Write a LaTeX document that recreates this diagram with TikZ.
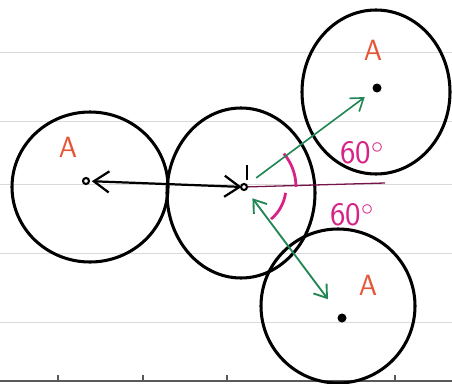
\documentclass[tikz,border=0pt]{standalone}
\usepackage{tikz}
\usetikzlibrary{calc, arrows.meta}
\definecolor{labelred}{RGB}{230,85,55}
\definecolor{anglepink}{RGB}{215,35,135}
\definecolor{arrowgreen}{RGB}{35,135,85}

\begin{document}
\begin{tikzpicture}[x=0.03cm, y=0.03cm, font=\sffamily,
    ring/.style={line width=2.6pt},
    lbl/.style={text=labelred, font=\sffamily\fontsize{25}{25}\selectfont},
    ang/.style={text=anglepink, font=\sffamily\fontsize{28}{28}\selectfont},
    hb/.tip={Straight Barb[length=13pt, width=18pt]},
    gb/.tip={Straight Barb[length=10pt, width=14pt]}]
        \useasboundingbox (0,0) rectangle (452,383);

        % --- ruled paper ---
        \foreach \y in {331,262,199,130,61}
          \draw[gray!30, line width=0.8pt] (0,\y) -- (452,\y);
        \draw[black!65, line width=1pt] (0,2) -- (452,2);
        \foreach \x in {58,143,227,395}
          \draw[black!65, line width=1pt] (\x,2) -- (\x,8);

        % --- centres ---
        \coordinate (cL) at (86,202);
        \coordinate (cM) at (244,196);
        \coordinate (cT) at (377,295);
        \coordinate (cB) at (342,65);

        % --- the four circles ---
        \draw[ring] (90,196)  ellipse [x radius=78, y radius=75];
        \draw[ring] (241,190) ellipse [x radius=74, y radius=85];
        \draw[ring] (376,291) ellipse [x radius=74, y radius=82];
        \draw[ring] (338,77)  ellipse [x radius=77, y radius=77];

        % --- angle reference line and arcs ---
        \coordinate (ref) at (385,200);
        \draw[anglepink!55!black, line width=1.1pt] (cM) -- (ref);
        \draw[anglepink, line width=2.4pt] ($(cM)+(52,0)$) arc[start angle=0, end angle=40, radius=52];
        \draw[anglepink, line width=2.4pt] ($(cM)+(-8:42)$) arc[start angle=-8, end angle=-50, radius=42];
        \node[ang] (a1) at (362,230) {60$^{\circ}$};
        \node[ang] (a2) at (352,168) {60$^{\circ}$};

        % --- distances ---
        \draw[line width=1.9pt, hb-hb, shorten <=5pt, shorten >=2pt] (cL) -- (cM);
        \draw[black, line width=1.7pt] (247,203) -- (247,218);
        \draw[arrowgreen, line width=1.4pt, -gb, shorten <=13pt, shorten >=13pt] (cM) -- (cT);
        \draw[arrowgreen, line width=1.6pt, gb-gb, shorten <=12pt, shorten >=20pt] (cM) -- (cB);

        % --- centre marks ---
        \draw[line width=1.8pt, fill=white] (cL) circle (3);
        \draw[line width=1.8pt, fill=white] (cM) circle (3);
        \fill (cT) circle (4.5);
        \fill (cB) circle (4.5);

        % --- labels ---
        \node[lbl] (lA1) at (68,236) {A};
        \node[lbl] (lA2) at (373,333) {A};
        \node[lbl] (lA3) at (368,98) {A};
\end{tikzpicture}
\end{document}
